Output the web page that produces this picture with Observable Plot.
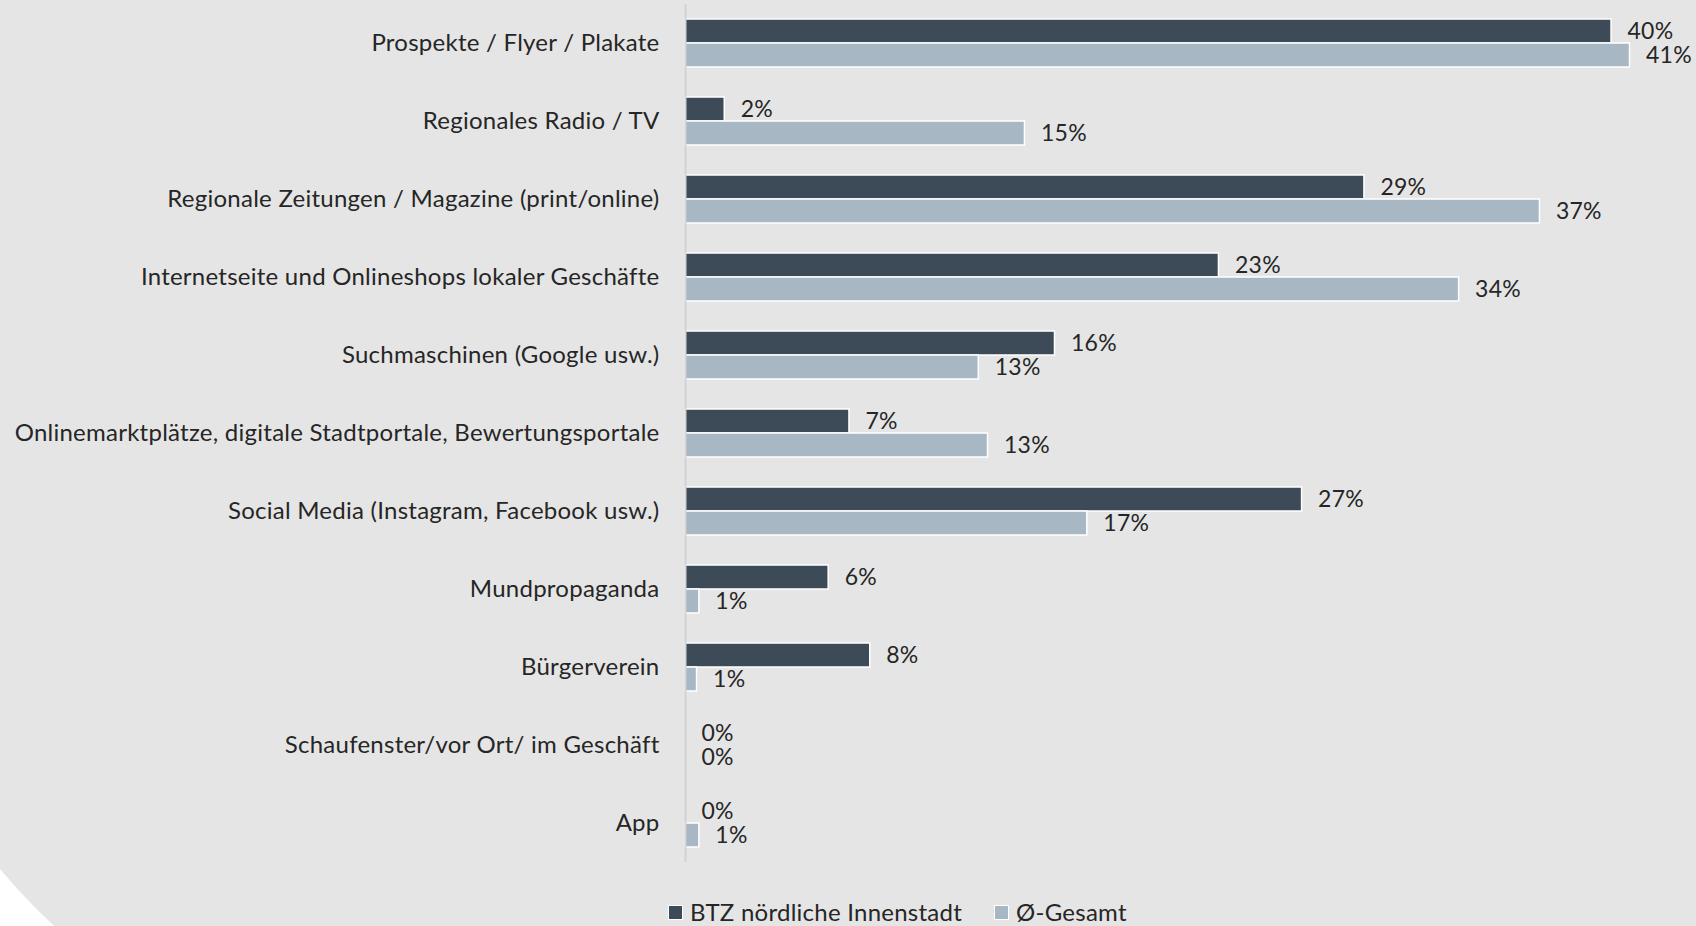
<!DOCTYPE html>
<html>
<head>
<meta charset="utf-8">
<script src="https://cdn.jsdelivr.net/npm/d3@7"></script>
<script src="https://cdn.jsdelivr.net/npm/@observablehq/plot@0.6"></script>
<style>
  html, body { margin: 0; padding: 0; width: 1696px; height: 926px; overflow: hidden; background: #ffffff; }
  #bg { position: absolute; left: -139px; top: 0; width: 1900px; height: 1085px; background: #e5e5e5; border-bottom-left-radius: 600px; z-index: 0; }
  #wrap { position: absolute; left: 0; top: 0; z-index: 1; font-family: Lato, "Open Sans", sans-serif; color: #262626; letter-spacing: 0.25px; }
  #legend { height: 36px; line-height: 36px; font-size: 24px; padding-left: 668px; display: flex; align-items: center; white-space: nowrap; }
  .sw { display: inline-block; width: 13px; height: 13px; border: 1px solid #ffffff; margin-right: 7px; }
  .item { display: inline-flex; align-items: center; margin-right: 32px; }
</style>
</head>
<body>
<div id="bg"></div>
<div id="wrap"><div id="chart"></div><div id="legend"></div></div>
<script>
const categories = [
  "Prospekte / Flyer / Plakate",
  "Regionales Radio / TV",
  "Regionale Zeitungen / Magazine (print/online)",
  "Internetseite und Onlineshops lokaler Geschäfte",
  "Suchmaschinen (Google usw.)",
  "Onlinemarktplätze, digitale Stadtportale, Bewertungsportale",
  "Social Media (Instagram, Facebook usw.)",
  "Mundpropaganda",
  "Bürgerverein",
  "Schaufenster/vor Ort/ im Geschäft",
  "App"
];
const seriesNames = ["BTZ nördliche Innenstadt", "Ø-Gesamt"];
const btzValues = [40.1, 1.7, 29.4, 23.1, 16.0, 7.1, 26.7, 6.2, 8.0, 0, 0];
const gesamtValues = [40.9, 14.7, 37.0, 33.5, 12.7, 13.1, 17.4, 0.6, 0.5, 0, 0.6];
const colors = ["#3d4b58", "#a8b7c4"];

const data = [];
categories.forEach((c, i) => {
  data.push({cat: c, series: seriesNames[0], value: btzValues[i]});
  data.push({cat: c, series: seriesNames[1], value: gesamtValues[i]});
});

const chart = Plot.plot({
  width: 1696,
  height: 894,
  marginLeft: 685,
  marginRight: 18,
  marginTop: 4,
  marginBottom: 32,
  style: {fontFamily: "Lato, 'Open Sans', sans-serif", fontSize: "24px", letterSpacing: "0.25px", color: "#262626", background: "transparent", overflow: "visible"},
  x: {domain: [0, 43], axis: null},
  y: {domain: seriesNames, paddingInner: 0, paddingOuter: 0.625, round: false, axis: null},
  fy: {domain: categories, padding: 0, round: false, label: null},
  color: {domain: seriesNames, range: colors},
  marks: [
    Plot.axisFy({anchor: "left", tickSize: 0, tickPadding: 26, label: null, fontSize: 24, fill: "#262626"}),
    Plot.barX(data.filter(d => d.value > 0), {fy: "cat", y: "series", x: "value", fill: "series", stroke: "#ffffff", strokeWidth: 1.5}),
    Plot.ruleX([0], {stroke: "#d2d2d2", strokeWidth: 2}),
    Plot.text(data, {fy: "cat", y: "series", x: "value", text: d => Math.round(d.value) + "%", textAnchor: "start", dx: 16, fill: "#262626", fontSize: 23})
  ]
});
document.getElementById("chart").appendChild(chart);

const legend = document.getElementById("legend");
seriesNames.forEach((s, i) => {
  const item = document.createElement("span");
  item.className = "item";
  const sw = document.createElement("span");
  sw.className = "sw";
  sw.style.background = colors[i];
  item.appendChild(sw);
  item.appendChild(document.createTextNode(s));
  legend.appendChild(item);
});
</script>
</body>
</html>
